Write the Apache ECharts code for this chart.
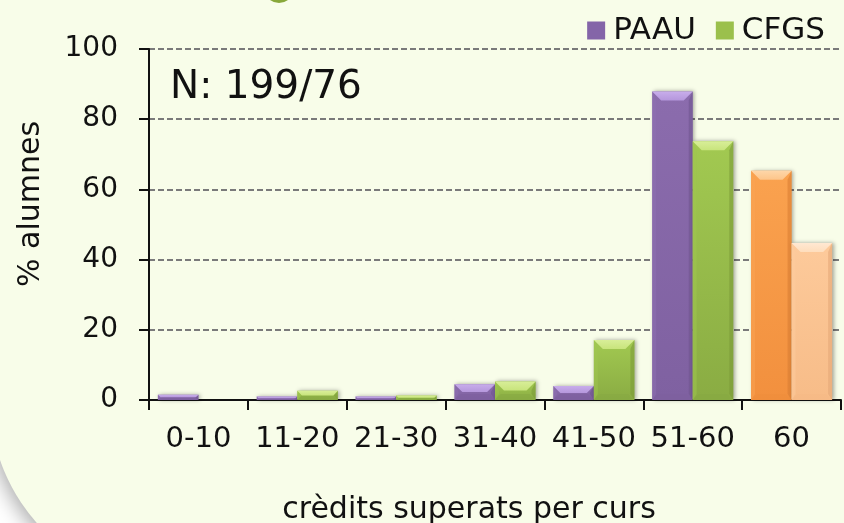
<!DOCTYPE html>
<html>
<head>
<meta charset="utf-8">
<script src="https://cdn.jsdelivr.net/npm/echarts@6/dist/echarts.min.js"></script>
<style>
  html, body { margin: 0; padding: 0; background: #ffffff; }
  #chart { width: 844px; height: 523px; }
</style>
</head>
<body>
<div id="chart"></div>
<script>
// Credit ranges passed per course
const categories = ['0-10', '11-20', '21-30', '31-40', '41-50', '51-60', '60'];
// % of students, PAAU access route (N = 199)
const paauValues = [1.5, 1.0, 1.0, 4.5, 4.0, 87.9, 65.3];
// % of students, CFGS access route (N = 76)
const cfgsValues = [0, 2.6, 1.3, 5.3, 17.1, 73.7, 44.7];
const yTicks = [0, 20, 40, 60, 80, 100];
const seriesNames = ['PAAU', 'CFGS'];

const FONT = 'DejaVu Sans';

// Bevelled fills: body gradient (top -> bottom), top facet, side facets
const palettes = {
  PAAU: {
    main: { top: '#8B6CAD', bottom: '#7F61A1', cap: '#B597DC', capEdge: '#C8ADEB', left: '#8E70B1', right: '#70558F', foot: '#7D5F9E' },
    alt:  { top: '#FAA24F', bottom: '#F2903E', cap: '#FDC58A', capEdge: '#FED6A8', left: '#F9A453', right: '#DA7F33', foot: '#EF8D3C' }
  },
  CFGS: {
    main: { top: '#A2C951', bottom: '#8AAC43', cap: '#C8E47C', capEdge: '#D8EE98', left: '#A0C650', right: '#7C9B39', foot: '#87A842' },
    alt:  { top: '#FDCA9B', bottom: '#F7BC88', cap: '#FEDDBC', capEdge: '#FFE8D2', left: '#FDCB9E', right: '#E4A878', foot: '#F5B985' }
  }
};
const altIndex = categories.length - 1;

function makeRenderer(name, side) {
  return function (params, api) {
    const idx = api.value(0);
    const v = api.value(1);
    const base = api.coord([idx, 0]);
    const top = api.coord([idx, v]);
    const band = api.size([1, 0])[0];
    const w = band * 0.41;
    const x = side < 0 ? base[0] - w : base[0];
    const y = top[1];
    const h = base[1] - top[1];
    if (h < 0.3) return null;
    const c = palettes[name][idx === altIndex ? 'alt' : 'main'];
    const b = Math.min(9, h / 2, w / 2);
    const fb = Math.min(6, h / 2);
    return {
      type: 'group',
      children: [
        {
          type: 'rect',
          shape: { x: x, y: y, width: w, height: h },
          style: {
            fill: new echarts.graphic.LinearGradient(0, 0, 0, 1, [
              { offset: 0, color: c.top }, { offset: 1, color: c.bottom }
            ]),
            shadowBlur: 4, shadowColor: 'rgba(0,0,0,0.35)', shadowOffsetX: 1.5, shadowOffsetY: 0
          }
        },
        {
          type: 'polygon',
          shape: { points: [[x, y + h], [x + fb, y + h - fb], [x + w - fb, y + h - fb], [x + w, y + h]] },
          style: { fill: c.foot, opacity: 0.6 }
        },
        {
          type: 'polygon',
          shape: { points: [[x, y], [x + 4, y + b], [x + 4, y + h - fb], [x, y + h]] },
          style: { fill: c.left, opacity: 0.5 }
        },
        {
          type: 'polygon',
          shape: { points: [[x + w, y], [x + w - 4, y + b], [x + w - 4, y + h - fb], [x + w, y + h]] },
          style: { fill: c.right, opacity: 0.6 }
        },
        {
          type: 'polygon',
          shape: { points: [[x, y], [x + w, y], [x + w - b, y + b], [x + b, y + b]] },
          style: {
            fill: new echarts.graphic.LinearGradient(0, 0, 0, 1, [
              { offset: 0, color: c.capEdge }, { offset: 1, color: c.cap }
            ])
          }
        }
      ]
    };
  };
}

const chart = echarts.init(document.getElementById('chart'), null, { renderer: 'canvas' });

const option = {
  backgroundColor: '#ffffff',
  animation: false,
  textStyle: { fontFamily: FONT },
  graphic: [
    {
      type: 'rect',
      z: -10,
      silent: true,
      shape: { x: -10, y: -400, width: 1000, height: 985, r: 185 },
      style: {
        fill: '#F8FDE9',
        shadowBlur: 20, shadowColor: 'rgba(0,0,0,0.32)', shadowOffsetX: -3, shadowOffsetY: 5
      }
    },
    {
      type: 'circle',
      z: -5,
      silent: true,
      shape: { cx: 279, cy: -12, r: 15 },
      style: { fill: '#88A83A' }
    },
    {
      type: 'text',
      x: 170, y: 88,
      style: {
        text: 'N: 199/76', font: '39px "DejaVu Sans"', fill: '#111111',
        align: 'left', verticalAlign: 'middle'
      }
    },
    {
      type: 'text',
      x: 469, y: 510,
      style: {
        text: 'crèdits superats per curs', font: '30px "DejaVu Sans"', fill: '#111111',
        align: 'center', verticalAlign: 'middle'
      }
    },
    {
      type: 'text',
      x: 31, y: 204,
      rotation: Math.PI / 2,
      style: {
        text: '% alumnes', font: '30px "DejaVu Sans"', fill: '#111111',
        align: 'center', verticalAlign: 'middle'
      }
    }
  ],
  legend: {
    data: seriesNames,
    right: 14,
    top: 10,
    icon: 'rect',
    itemWidth: 18,
    itemHeight: 18,
    itemGap: 20,
    textStyle: { fontSize: 31, fontFamily: FONT, color: '#111111', padding: [0, 0, 0, 3] }
  },
  grid: { left: 149, right: 3, top: 49, bottom: 123, containLabel: false },
  xAxis: {
    type: 'category',
    data: categories,
    axisLine: { lineStyle: { color: '#111111', width: 2 } },
    axisTick: { show: true, length: 10, lineStyle: { color: '#111111', width: 2 } },
    axisLabel: { interval: 0, fontSize: 29, fontFamily: FONT, color: '#111111', margin: 25 },
    splitLine: { show: false }
  },
  yAxis: {
    type: 'value',
    min: yTicks[0],
    max: yTicks[yTicks.length - 1],
    interval: yTicks[1] - yTicks[0],
    axisLine: { show: true, lineStyle: { color: '#111111', width: 2 } },
    axisTick: { show: true, length: 10, lineStyle: { color: '#111111', width: 2 } },
    axisLabel: { fontSize: 28, fontFamily: FONT, color: '#111111', margin: 31 },
    splitLine: { show: true, lineStyle: { color: '#7A7A7A', width: 2, type: [6, 3] } }
  },
  series: [
    {
      name: seriesNames[0],
      type: 'custom',
      itemStyle: { color: '#8465A8' },
      renderItem: makeRenderer('PAAU', -1),
      encode: { x: 0, y: 1 },
      data: paauValues.map((v, i) => [i, v])
    },
    {
      name: seriesNames[1],
      type: 'custom',
      itemStyle: { color: '#9BC04C' },
      renderItem: makeRenderer('CFGS', 1),
      encode: { x: 0, y: 1 },
      data: cfgsValues.map((v, i) => [i, v])
    }
  ]
};

chart.setOption(option);
</script>
</body>
</html>
